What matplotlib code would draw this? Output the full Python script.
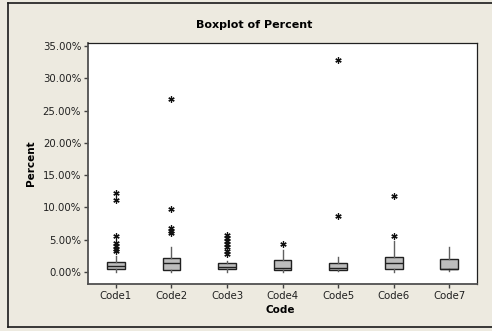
import matplotlib
matplotlib.use("Agg")
import matplotlib.pyplot as plt
from matplotlib.lines import Line2D
from matplotlib.ticker import FuncFormatter

codes = ["Code1", "Code2", "Code3", "Code4", "Code5", "Code6", "Code7"]
q1 = [0.42, 0.31, 0.42, 0.31, 0.31, 0.42, 0.50]
median = [0.93, 1.35, 0.82, 0.67, 0.57, 1.35, 0.50]
q3 = [1.55, 2.21, 1.35, 1.86, 1.44, 2.37, 1.97]
whisker_lo = [0.05, 0.05, 0.05, 0.05, 0.10, 0.05, 0.15]
whisker_hi = [2.48, 3.92, 1.70, 3.45, 2.27, 4.85, 3.82]
outliers = [
    [12.3, 11.2, 5.6, 4.5, 4.1, 3.6, 3.2],
    [26.8, 9.7, 6.8, 6.4, 6.1],
    [5.7, 5.3, 4.8, 4.3, 3.8, 3.3, 2.8],
    [4.4],
    [32.8, 8.6],
    [11.8, 5.6],
    [],
]

BG = "#EDEAE0"
FONT = "DejaVu Sans"

fig = plt.figure(figsize=(4.92, 3.31), dpi=100, facecolor=BG)
ax = fig.add_axes([0.179, 0.142, 0.7905, 0.728])
ax.set_facecolor("white")

stats = [
    dict(label=c, q1=a, med=m, q3=b, whislo=lo, whishi=hi, fliers=f)
    for c, a, m, b, lo, hi, f in zip(codes, q1, median, q3, whisker_lo, whisker_hi, outliers)
]
ax.bxp(
    stats,
    positions=range(1, len(codes) + 1),
    widths=0.32,
    showcaps=False,
    patch_artist=True,
    boxprops=dict(facecolor="#BDBDBD", edgecolor="#202020", linewidth=1.0),
    medianprops=dict(color="#202020", linewidth=1.0),
    whiskerprops=dict(color="#606060", linewidth=1.0),
    flierprops=dict(marker=(6, 2, 0), markersize=4.5, markeredgecolor="#111111",
                    markeredgewidth=0.9, markerfacecolor="#111111"),
)

ax.set_xlim(0.5, 7.5)
ax.set_ylim(-1.86, 35.46)
ax.set_yticks([0, 5, 10, 15, 20, 25, 30, 35])
ax.yaxis.set_major_formatter(FuncFormatter(lambda v, _: f"{v:.2f}%"))
ax.set_xticks(range(1, len(codes) + 1))
ax.set_xticklabels(codes)
ax.tick_params(axis="both", direction="out", length=3, width=1, color="#404040",
               labelsize=7.3, labelcolor="#202020", pad=2)
for lab in ax.get_xticklabels() + ax.get_yticklabels():
    lab.set_family(FONT)
for side in ["left", "bottom"]:
    ax.spines[side].set_color("#505050")
    ax.spines[side].set_linewidth(1.3)
for side in ["top", "right"]:
    ax.spines[side].set_color("#202020")
    ax.spines[side].set_linewidth(0.9)

fig.text(254 / 492, 1 - 25 / 331, "Boxplot of Percent", ha="center", va="center",
         fontsize=8, fontweight="bold", family=FONT)
fig.text(280 / 492, 1 - 310 / 331, "Code", ha="center", va="center",
         fontsize=7.5, fontweight="bold", family=FONT)
fig.text(31 / 492, 1 - 163 / 331, "Percent", ha="center", va="center", rotation=90,
         fontsize=7.5, fontweight="bold", family=FONT)

# outer frame of the graph window: top, left and bottom edges only
x0, y_top, y_bot = 8 / 492, 1 - 2.5 / 331, 1 - 327 / 331
for xs, ys in [((x0, 1.0), (y_top, y_top)), ((x0, x0), (y_bot, y_top)),
               ((x0, 1.0), (y_bot, y_bot))]:
    fig.add_artist(Line2D(xs, ys, transform=fig.transFigure, color="#1a1a1a", linewidth=1.2))

fig.savefig("out.png", dpi=100, facecolor=BG)
